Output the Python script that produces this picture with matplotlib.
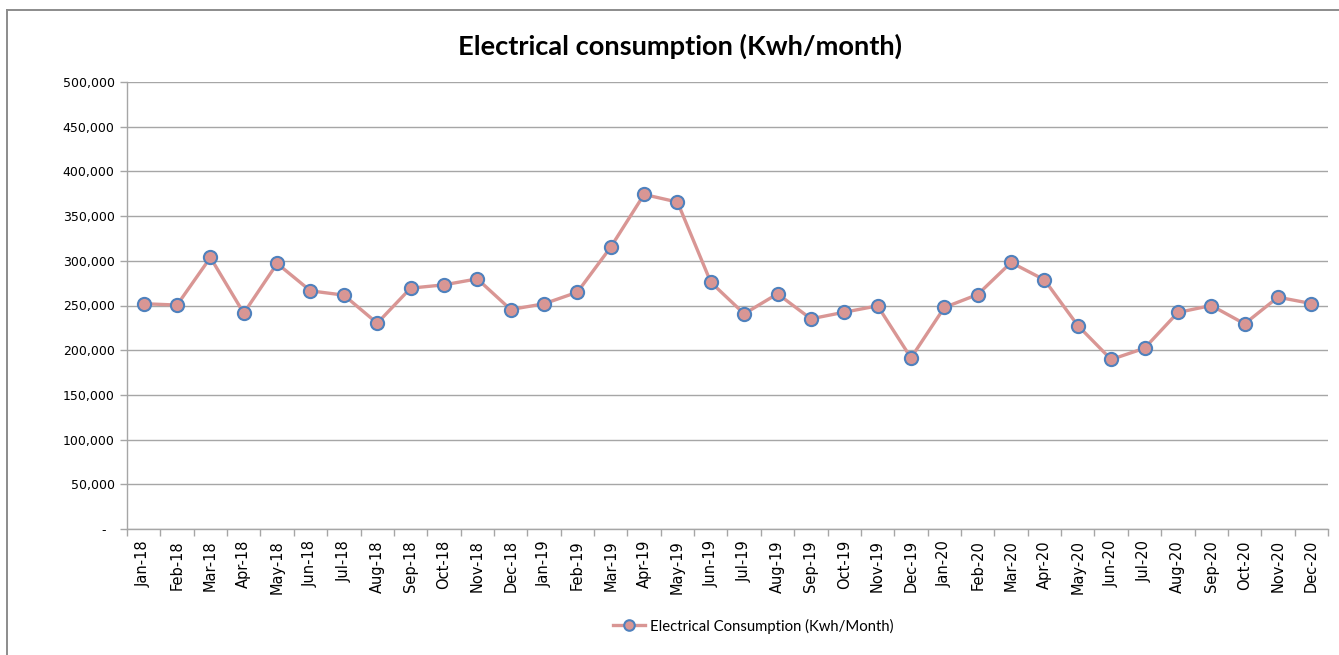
import matplotlib
matplotlib.use("Agg")
import matplotlib.pyplot as plt
from matplotlib.lines import Line2D
from matplotlib.ticker import FuncFormatter, FixedLocator

# ============================================================
# DATA
# ============================================================
MONTHS = [
    "Jan-18", "Feb-18", "Mar-18", "Apr-18", "May-18", "Jun-18",
    "Jul-18", "Aug-18", "Sep-18", "Oct-18", "Nov-18", "Dec-18",
    "Jan-19", "Feb-19", "Mar-19", "Apr-19", "May-19", "Jun-19",
    "Jul-19", "Aug-19", "Sep-19", "Oct-19", "Nov-19", "Dec-19",
    "Jan-20", "Feb-20", "Mar-20", "Apr-20", "May-20", "Jun-20",
    "Jul-20", "Aug-20", "Sep-20", "Oct-20", "Nov-20", "Dec-20",
]
CONSUMPTION_KWH = [
    252000, 250500, 303700, 241400, 297000, 266400,
    261600, 230200, 269400, 273100, 279800, 245500,
    251900, 264900, 315300, 374200, 365700, 276000,
    240700, 263100, 235100, 242500, 249600, 191400,
    247800, 262300, 298100, 278700, 227600, 189600,
    202200, 242200, 250000, 229500, 259300, 252200,
]
Y_TICKS = [0, 50000, 100000, 150000, 200000, 250000, 300000, 350000, 400000, 450000, 500000]

TITLE = "Electrical consumption (Kwh/month)"
SERIES_LABEL = "Electrical Consumption (Kwh/Month)"

# ============================================================
# STYLE
# ============================================================
LINE_COLOR = "#D99694"
MARKER_EDGE = "#4F81BD"
GRID_COLOR = "#A6A6A6"
FRAME_COLOR = "#8C8C8C"

W, H = 1339, 655


def y_fmt(v, _pos):
    if v == 0:
        return "-  "
    return f"{int(v):,}"


def main():
    fig = plt.figure(figsize=(W / 100, H / 100), dpi=100)

    # outer chart frame (runs off the right and bottom edge)
    fig.add_artist(Line2D([7 / W, 7 / W], [0, 1 - 10 / H], color=FRAME_COLOR, lw=1.4))
    fig.add_artist(Line2D([7 / W, 1.01], [1 - 10 / H, 1 - 10 / H], color=FRAME_COLOR, lw=1.4))

    left, right, top, bottom = 127, 1328, 82, 529
    ax = fig.add_axes([left / W, 1 - bottom / H, (right - left) / W, (bottom - top) / H])

    x = list(range(len(MONTHS)))
    ax.plot(
        x, CONSUMPTION_KWH,
        color=LINE_COLOR, lw=2.4,
        marker="o", markersize=9.5,
        markerfacecolor=LINE_COLOR, markeredgecolor=MARKER_EDGE, markeredgewidth=1.5,
        label=SERIES_LABEL, zorder=3,
    )

    ax.set_xlim(-0.5, len(MONTHS) - 0.5)
    ax.set_ylim(0, 500000)

    ax.set_yticks(Y_TICKS)
    ax.yaxis.set_major_formatter(FuncFormatter(y_fmt))
    ax.grid(axis="y", color=GRID_COLOR, lw=1.0)
    ax.set_axisbelow(True)

    ax.set_xticks(x)
    ax.set_xticklabels(MONTHS, rotation=90, fontsize=10.5, family="DejaVu Sans")
    ax.xaxis.set_minor_locator(FixedLocator([i - 0.5 for i in range(len(MONTHS) + 1)]))
    ax.tick_params(axis="x", which="major", length=0, pad=8)
    ax.tick_params(axis="x", which="minor", length=5, color=GRID_COLOR, width=1)
    ax.tick_params(axis="y", length=5, color=GRID_COLOR, width=1, labelsize=9, pad=4)

    for side in ("top", "right"):
        ax.spines[side].set_visible(False)
    for side in ("left", "bottom"):
        ax.spines[side].set_color(GRID_COLOR)
        ax.spines[side].set_linewidth(1.0)

    fig.text(680 / W, 1 - 46 / H, TITLE, ha="center", va="center",
             fontsize=19.6, fontweight="bold", family="Lato")

    fig.legend(
        loc="center", bbox_to_anchor=(753 / W, 1 - 626 / H),
        frameon=False, prop={"family": "Lato", "size": 10.7},
        handlelength=2.2, handletextpad=0.3, markerscale=0.8,
    )

    fig.savefig("out.png", dpi=100, facecolor="white")
    plt.close(fig)


if __name__ == "__main__":
    main()
